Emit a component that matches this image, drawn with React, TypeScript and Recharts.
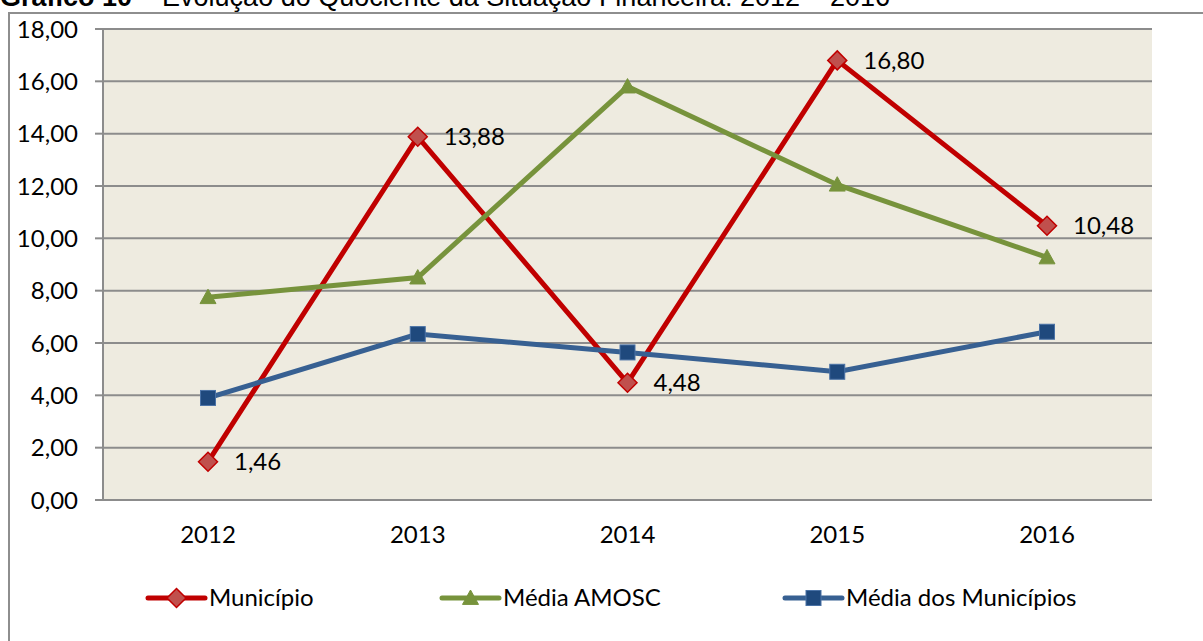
import { CartesianGrid, LabelList, Legend, Line, LineChart, XAxis, YAxis } from 'recharts';

const years = ['2012', '2013', '2014', '2015', '2016'];
const municipio = [1.46, 13.88, 4.48, 16.8, 10.48];
const mediaAmosc = [7.75, 8.5, 15.8, 12.05, 9.27];
const mediaMunicipios = [3.9, 6.34, 5.64, 4.9, 6.43];
const yTicks = [0, 2, 4, 6, 8, 10, 12, 14, 16, 18];

const data = years.map((year, i) => ({
  year,
  municipio: municipio[i],
  amosc: mediaAmosc[i],
  media: mediaMunicipios[i]
}));

const FONT = 'Lato, "Open Sans", sans-serif';
const fmt = (v: number) => v.toFixed(2).replace('.', ',');

const RED = '#C00000';
const GREEN = '#77933C';
const BLUE = '#376092';

function Diamond({ cx, cy }: any) {
  if (cx == null || cy == null) return null;
  const r = 9.5;
  return (
    <polygon
      points={`${cx},${cy - r} ${cx + r},${cy} ${cx},${cy + r} ${cx - r},${cy}`}
      fill="#C0504D"
      stroke={RED}
      strokeWidth={1.5}
    />
  );
}

function Triangle({ cx, cy }: any) {
  if (cx == null || cy == null) return null;
  const r = 8;
  return (
    <polygon
      points={`${cx},${cy - r} ${cx + r},${cy + r * 0.8} ${cx - r},${cy + r * 0.8}`}
      fill={GREEN}
      stroke={GREEN}
      strokeWidth={1}
    />
  );
}

function Square({ cx, cy }: any) {
  if (cx == null || cy == null) return null;
  const r = 7.5;
  return <rect x={cx - r} y={cy - r} width={r * 2} height={r * 2} fill="#1F497D" stroke="#4A72A6" strokeWidth={1} />;
}

const legendItems = [
  { name: 'Município', color: RED, Marker: Diamond, x: 148 },
  { name: 'Média AMOSC', color: GREEN, Marker: Triangle, x: 442 },
  { name: 'Média dos Municípios', color: BLUE, Marker: Square, x: 785 }
];

function ChartLegend() {
  return (
    <svg width={1203} height={81} style={{ display: 'block' }}>
      {legendItems.map(({ name, color, Marker, x }) => (
        <g key={name}>
          <line x1={x} x2={x + 57} y1={38} y2={38} stroke={color} strokeWidth={5} strokeLinecap="round" />
          <Marker cx={x + 28.5} cy={38} />
          <text x={x + 61} y={38} dy="0.35em" fontSize={24} fontFamily={FONT} fill="#000">
            {name}
          </text>
        </g>
      ))}
    </svg>
  );
}

export default function App() {
  return (
    <div style={{ position: 'fixed', left: 0, top: 0, width: 1203, height: 641, overflow: 'hidden', background: '#fff' }}>
      <div
        style={{
          position: 'absolute',
          left: 0,
          top: -16,
          lineHeight: '27px',
          fontSize: 27,
          fontFamily: '"Liberation Sans", Arial, sans-serif',
          whiteSpace: 'nowrap'
        }}
      >
        <b>Gráfico 10</b> – Evolução do Quociente da Situação Financeira: 2012 – 2016
      </div>
      <div
        style={{
          position: 'absolute',
          left: 8,
          top: 12,
          width: 1300,
          height: 700,
          border: '2px solid #8e8e8e',
          boxSizing: 'border-box'
        }}
      />
      <div style={{ position: 'absolute', left: 0, top: 0 }}>
        <LineChart width={1203} height={641} data={data} margin={{ top: 29, right: 51, bottom: 0, left: 0 }}>
          <CartesianGrid vertical={false} fill="#EEEBE0" stroke="#8c8c8c" strokeWidth={2} />
          <XAxis
            dataKey="year"
            height={60}
            padding={{ left: 105, right: 105 }}
            axisLine={{ stroke: '#8c8c8c', strokeWidth: 2 }}
            tickLine={false}
            tickMargin={20}
            tick={{ fontSize: 24, fontFamily: FONT, fill: '#000' }}
          />
          <YAxis
            width={103}
            domain={[0, 18]}
            ticks={yTicks}
            interval={0}
            tickFormatter={fmt}
            axisLine={{ stroke: '#8c8c8c', strokeWidth: 2 }}
            tickLine={{ stroke: '#8c8c8c', strokeWidth: 2 }}
            tickSize={8}
            tickMargin={17}
            tick={{ fontSize: 24, fontFamily: FONT, fill: '#000' }}
          />
          <Legend verticalAlign="bottom" height={81} content={() => <ChartLegend />} />
          <Line
            dataKey="municipio"
            name="Município"
            stroke={RED}
            strokeWidth={5}
            dot={<Diamond />}
            activeDot={false}
            isAnimationActive={false}
          >
            <LabelList
              dataKey="municipio"
              position="right"
              offset={26}
              formatter={(v: any) => fmt(Number(v))}
              style={{ fontSize: 24, fontFamily: FONT, fill: '#000' }}
            />
          </Line>
          <Line
            dataKey="amosc"
            name="Média AMOSC"
            stroke={GREEN}
            strokeWidth={5}
            dot={<Triangle />}
            activeDot={false}
            isAnimationActive={false}
          />
          <Line
            dataKey="media"
            name="Média dos Municípios"
            stroke={BLUE}
            strokeWidth={5}
            dot={<Square />}
            activeDot={false}
            isAnimationActive={false}
          />
        </LineChart>
      </div>
    </div>
  );
}
